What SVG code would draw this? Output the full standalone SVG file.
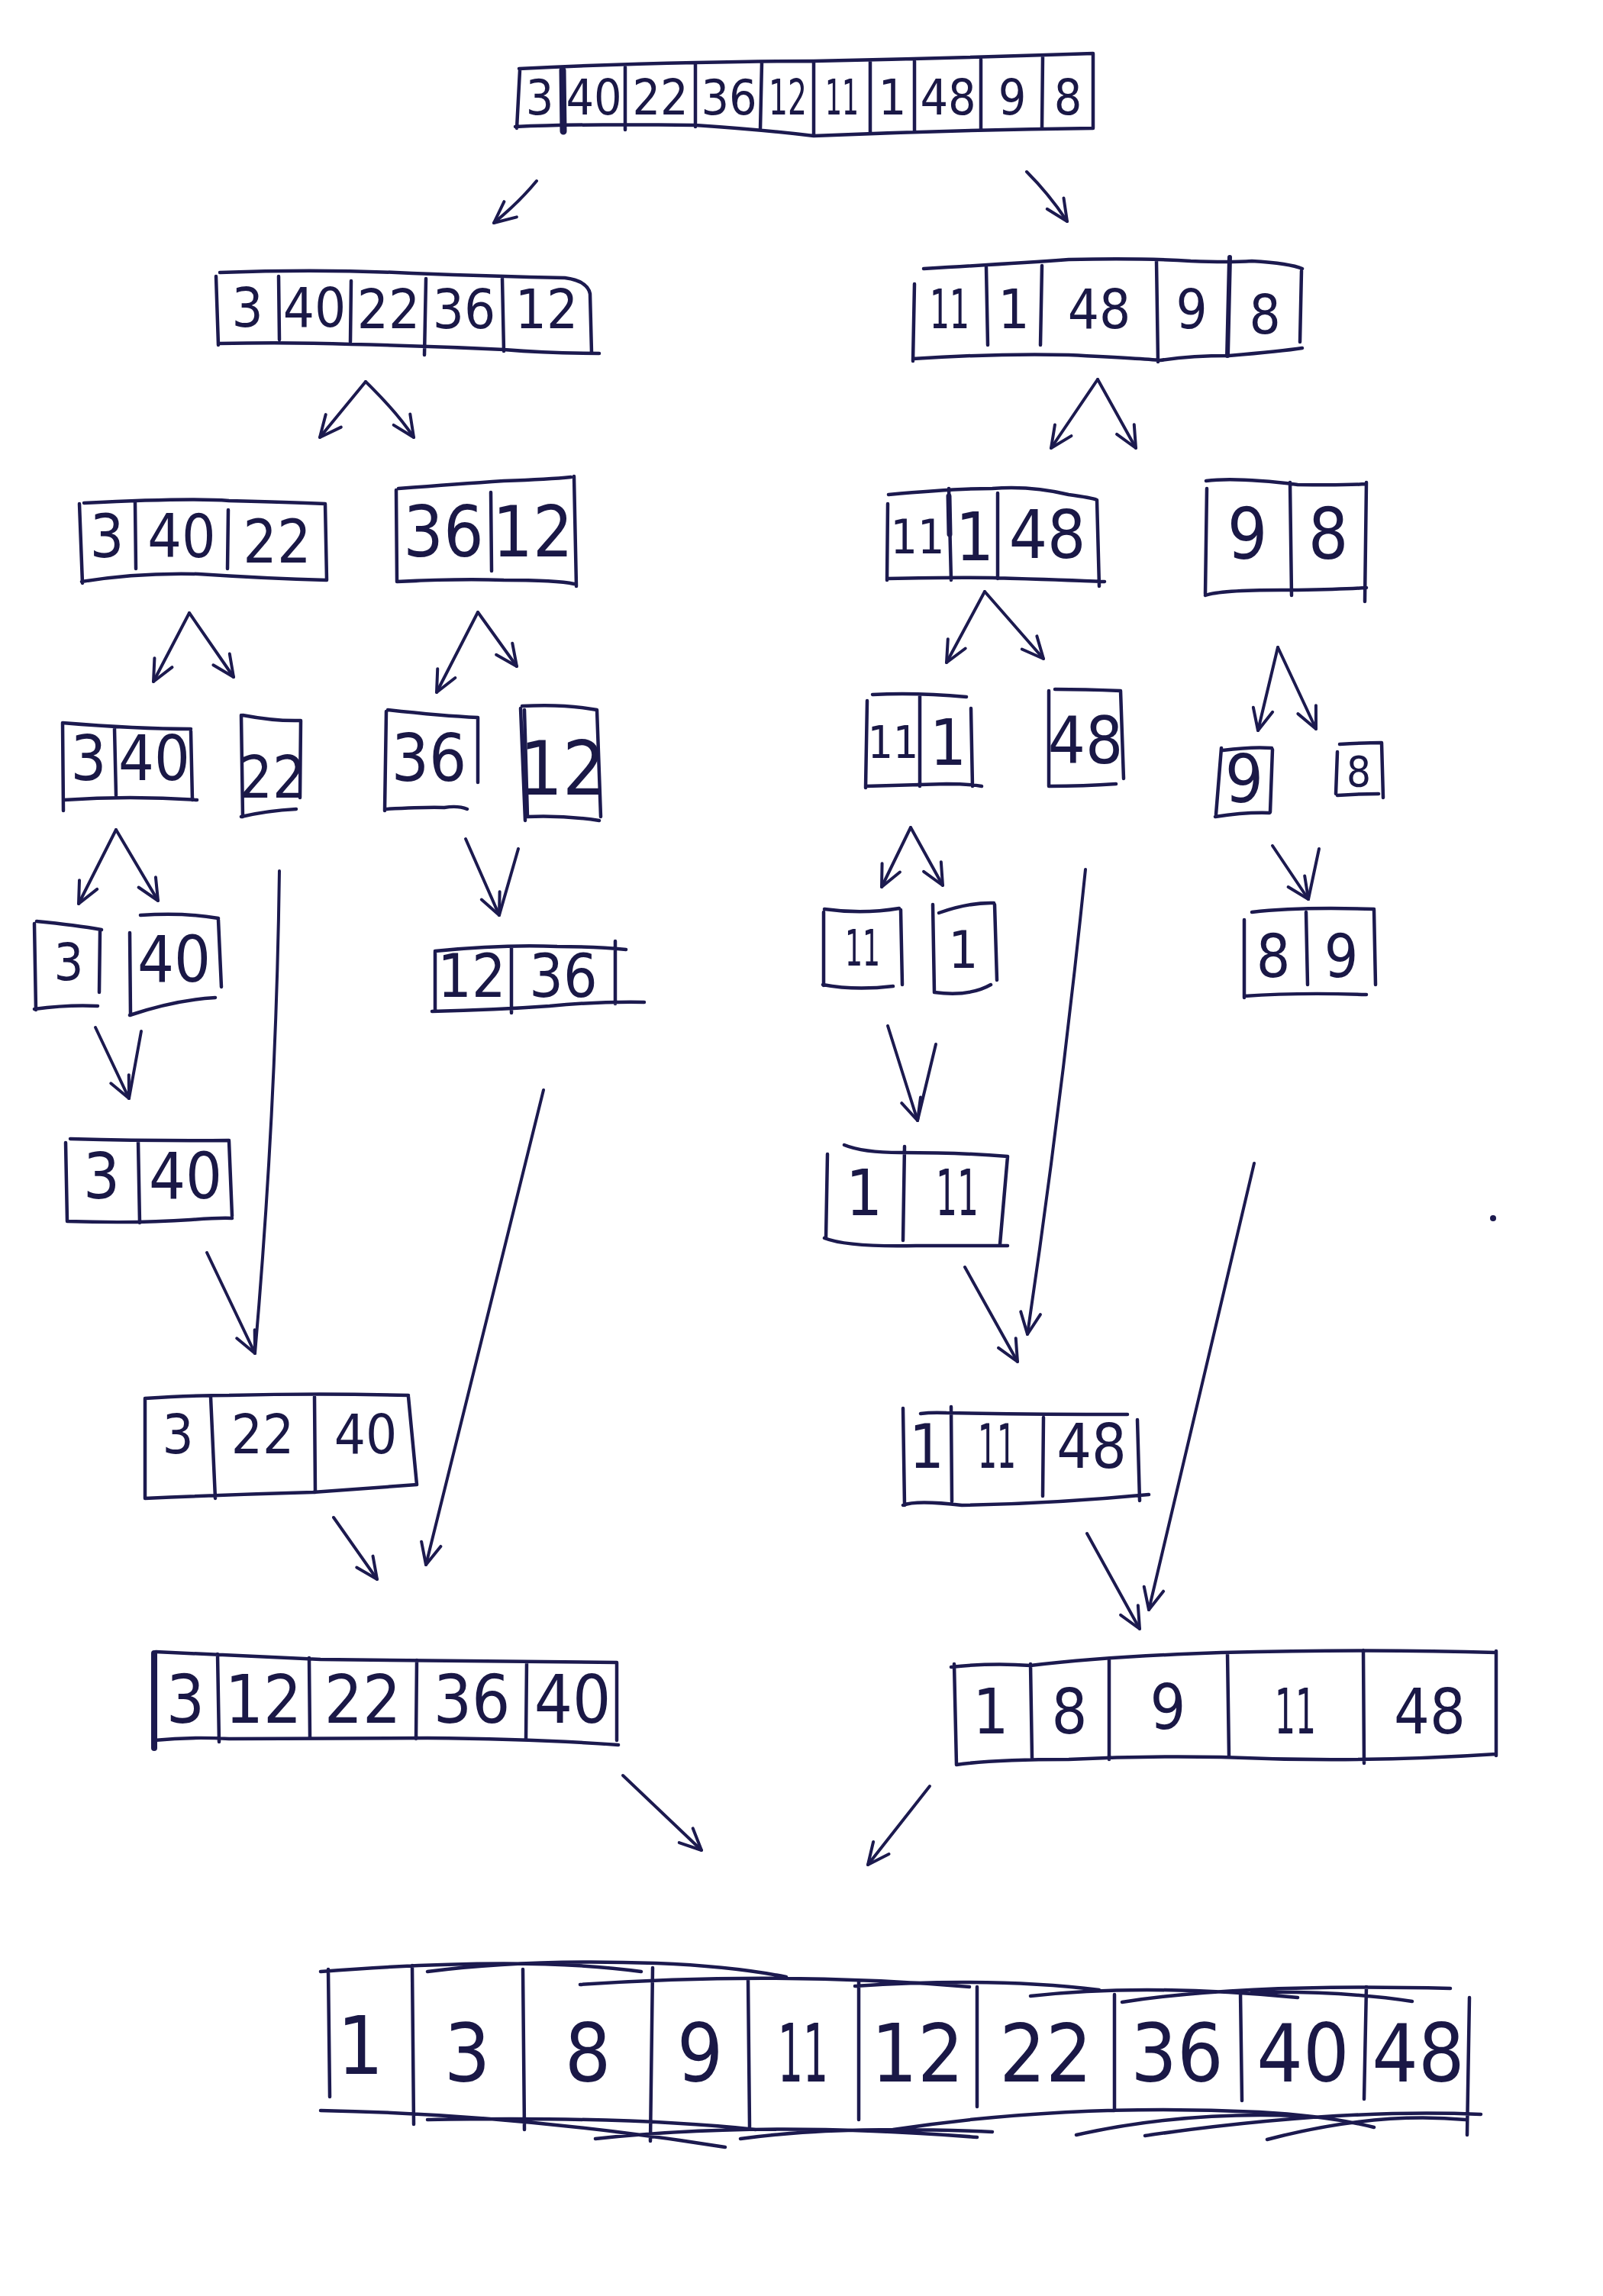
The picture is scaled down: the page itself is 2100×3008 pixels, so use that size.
<svg xmlns="http://www.w3.org/2000/svg" width="2100" height="3008" viewBox="0 0 2100 3008">
<style>
.ln{fill:none;stroke:#1c1a4f;stroke-width:4.5;stroke-linecap:round;stroke-linejoin:round}
.thk{stroke-width:9}
.d{font-family:"DejaVu Sans Condensed","Liberation Sans",sans-serif;fill:#1a1846;text-anchor:middle;dominant-baseline:central}
.cn path{fill:none;stroke:#1c1a4f;stroke-width:4;stroke-linecap:round}
.ah{marker-end:url(#ah)}
</style>
<defs>
<marker id="ah" markerUnits="userSpaceOnUse" markerWidth="40" markerHeight="40" viewBox="0 0 40 40" refX="36" refY="20" orient="auto">
<path d="M8,7 L36,20 L8,33" fill="none" stroke="#1c1a4f" stroke-width="4" stroke-linecap="round" stroke-linejoin="round"/>
</marker>
</defs>
<rect width="2100" height="3008" fill="#ffffff"/>

<g id="n0">
<path class="ln" d="M680,90 Q800,84 911,82 Q1000,80 1066,80 Q1250,76 1432,70 M1432,70 L1432,168 M675,166 Q760,162 911,164 Q1000,170 1066,178 Q1250,170 1432,168 M681,92 L677,168 M819,88 L819,170 M911,84 L911,166 M998,82 L996,170 M1066,80 L1066,178 M1140,80 L1140,175 M1198,80 L1198,172 M1285,78 L1285,170 M1366,74 L1365,168"/>
<path class="ln thk" d="M737,92 L738,172"/>
<g class="d" font-size="64">
<text x="707" y="128">3</text><text x="778" y="128">40</text><text x="865" y="128">22</text><text x="955" y="128">36</text><text x="1032" y="128" textLength="50" lengthAdjust="spacingAndGlyphs">12</text><text x="1103" y="128" textLength="44" lengthAdjust="spacingAndGlyphs">11</text><text x="1169" y="128">1</text><text x="1242" y="128">48</text><text x="1326" y="128">9</text><text x="1399" y="128">8</text>
</g>
</g>

<g id="n1L">
<path class="ln" d="M288,357 Q420,352 540,358 Q650,362 740,364 Q770,368 773,385 L775,462 M287,450 Q380,448 460,451 Q560,453 660,458 Q720,463 785,463 M283,362 L286,452 M365,362 L366,445 M460,368 L459,448 M558,365 L556,465 M658,365 L660,460"/>
<g class="d" font-size="72">
<text x="324" y="403">3</text><text x="412" y="403">40</text><text x="509" y="405">22</text><text x="608" y="405">36</text><text x="716" y="405">12</text>
</g>
</g>

<g id="n1R">
<path class="ln" d="M1210,352 Q1330,345 1400,340 Q1500,338 1560,342 Q1610,344 1640,342 Q1690,345 1706,352 M1705,355 L1703,448 M1196,470 Q1300,463 1400,465 Q1500,470 1520,472 Q1560,466 1610,466 Q1680,460 1706,456 M1198,372 L1196,473 M1292,350 L1294,452 M1365,348 L1363,452 M1515,342 L1517,474"/>
<path class="ln" style="stroke-width:6" d="M1611,337 L1608,466"/>
<g class="d" font-size="72">
<text x="1244" y="405" textLength="52" lengthAdjust="spacingAndGlyphs">11</text><text x="1328" y="405">1</text><text x="1440" y="405">48</text><text x="1561" y="405">9</text><text x="1657" y="412">8</text>
</g>
</g>

<g id="n2a">
<path class="ln" d="M110,659 Q250,652 300,656 Q380,658 426,660 L428,760 M107,762 Q180,750 260,752 Q350,758 428,760 M104,660 L108,764 M177,658 L178,745 M299,668 L298,745"/>
<g class="d" font-size="78"><text x="140" y="703">3</text><text x="238" y="703">40</text><text x="363" y="710">22</text></g>
</g>

<g id="n2b">
<path class="ln" d="M522,640 Q600,634 660,630 Q720,628 748,625 M752,624 L755,768 M520,762 Q600,758 660,760 Q730,760 752,765 M519,642 L520,762 M643,645 L644,748"/>
<g class="d" font-size="92"><text x="581" y="697">36</text><text x="698" y="697">12</text></g>
</g>

<g id="n2c">
<path class="ln" d="M1164,648 Q1250,640 1300,640 Q1350,636 1400,648 Q1430,652 1437,655 L1440,768 M1162,758 Q1250,756 1300,757 Q1400,760 1447,762 M1163,660 L1162,760 M1243,640 L1246,760 M1307,646 L1307,758"/>
<path class="ln" style="stroke-width:7" d="M1243,650 L1244,700"/>
<g class="d" font-size="88"><text x="1202" y="703" font-size="62">11</text><text x="1277" y="703">1</text><text x="1372" y="700">48</text></g>
</g>

<g id="n2d">
<path class="ln" d="M1580,630 Q1620,625 1700,635 Q1760,636 1790,634 M1790,632 L1788,788 M1579,780 Q1600,772 1700,773 Q1760,772 1790,770 M1581,640 L1579,778 M1690,632 L1692,780"/>
<g class="d" font-size="92"><text x="1634" y="700">9</text><text x="1740" y="700">8</text></g>
</g>

<g id="n3a">
<path class="ln" d="M82,947 Q180,955 250,955 M250,958 L252,1048 M84,1048 Q170,1042 258,1048 M82,947 L83,1062 M150,955 L152,1042"/>
<g class="d" font-size="82"><text x="116" y="993">3</text><text x="202" y="993">40</text></g>
</g>

<g id="n3b">
<path class="ln" d="M318,937 Q360,945 394,944 L393,1045 M316,1070 Q350,1062 388,1060 M316,937 L318,1070"/>
<g class="d" font-size="76"><text x="357" y="1018">22</text></g>
</g>

<g id="n3c">
<path class="ln" d="M508,930 Q580,938 626,940 L626,1025 M504,1060 Q560,1057 582,1058 Q600,1055 612,1060 M506,932 L504,1062"/>
<g class="d" font-size="86"><text x="562" y="993">36</text></g>
</g>

<g id="n3d">
<path class="ln" d="M684,925 Q740,922 782,930 L787,1070 M690,1070 Q740,1068 785,1075 M682,928 L688,1075 M687,930 L691,1070"/>
<g class="d" font-size="98"><text x="737" y="1007">12</text></g>
</g>

<g id="n3e">
<path class="ln" d="M1143,910 Q1200,907 1266,913 M1272,928 L1274,1030 M1134,1030 Q1200,1028 1240,1027 Q1270,1027 1286,1030 M1136,918 L1134,1032 M1205,912 L1205,1030"/>
<g class="d" font-size="84"><text x="1170" y="973" font-size="58">11</text><text x="1242" y="973">1</text></g>
</g>

<g id="n3f">
<path class="ln" d="M1382,903 Q1420,903 1468,905 L1472,1020 M1374,1030 Q1420,1030 1462,1027 M1374,905 L1374,1030"/>
<g class="d" font-size="86"><text x="1422" y="970">48</text></g>
</g>

<g id="n3g">
<path class="ln" d="M1602,983 Q1640,978 1666,980 M1667,982 L1664,1064 M1592,1070 Q1630,1064 1663,1065 M1600,980 L1593,1067"/>
<g class="d" font-size="88"><text x="1630" y="1020">9</text></g>
</g>

<g id="n3h">
<path class="ln" d="M1755,975 Q1790,973 1810,973 L1812,1045 M1752,1042 Q1780,1040 1806,1040 M1752,985 L1750,1040"/>
<g class="d" font-size="56"><text x="1780" y="1010">8</text></g>
</g>

<g id="n4a">
<path class="ln" d="M48,1207 Q100,1212 133,1218 M131,1220 L130,1300 M45,1322 Q90,1316 128,1318 M45,1210 L47,1323"/>
<g class="d" font-size="68"><text x="90" y="1260">3</text></g>
</g>

<g id="n4b">
<path class="ln" d="M184,1199 Q240,1195 286,1203 M286,1205 L290,1293 M170,1330 Q230,1310 282,1307 M170,1222 L171,1330"/>
<g class="d" font-size="84"><text x="228" y="1257">40</text></g>
</g>

<g id="n4c">
<path class="ln" d="M570,1246 Q660,1237 730,1240 Q780,1240 820,1244 M566,1325 Q650,1323 720,1318 Q780,1312 844,1313 M570,1247 L570,1323 M670,1240 L670,1327 M806,1233 L806,1315"/>
<g class="d" font-size="78"><text x="618" y="1279">12</text><text x="738" y="1279">36</text></g>
</g>

<g id="n4d">
<path class="ln" d="M1080,1191 Q1130,1198 1178,1190 M1180,1192 L1182,1290 M1078,1290 Q1120,1298 1170,1292 M1079,1195 L1079,1291"/>
<g class="d" font-size="66"><text x="1130" y="1242" textLength="46" lengthAdjust="spacingAndGlyphs">11</text></g>
</g>

<g id="n4e">
<path class="ln" d="M1230,1196 Q1270,1182 1302,1183 M1303,1185 L1306,1284 M1224,1300 Q1270,1306 1298,1290 M1222,1185 L1224,1300"/>
<g class="d" font-size="68"><text x="1262" y="1244">1</text></g>
</g>

<g id="n4f">
<path class="ln" d="M1640,1195 Q1700,1188 1800,1191 M1800,1192 L1802,1290 M1630,1305 Q1700,1300 1790,1303 M1630,1205 L1630,1307 M1711,1195 L1713,1290"/>
<g class="d" font-size="78"><text x="1668" y="1253">8</text><text x="1757" y="1253">9</text></g>
</g>

<g id="n5a">
<path class="ln" d="M92,1492 Q200,1495 300,1494 M300,1495 L304,1593 M88,1600 Q180,1603 250,1598 Q290,1595 304,1596 M86,1497 L88,1600 M181,1495 L183,1602"/>
<g class="d" font-size="84"><text x="133" y="1541">3</text><text x="243" y="1541">40</text></g>
</g>

<g id="n5b">
<path class="ln" d="M1106,1500 Q1130,1510 1180,1510 Q1260,1510 1320,1515 L1310,1630 M1080,1622 Q1110,1634 1200,1632 Q1270,1632 1320,1632 M1084,1512 L1082,1622 M1185,1502 L1183,1625"/>
<g class="d" font-size="84"><text x="1132" y="1563">1</text><text x="1254" y="1563" textLength="56" lengthAdjust="spacingAndGlyphs">11</text></g>
</g>

<g id="n6a">
<path class="ln" d="M190,1832 Q250,1828 300,1828 Q420,1825 535,1828 M535,1830 L546,1945 M190,1963 Q300,1958 410,1955 Q480,1950 546,1945 M190,1832 L190,1963 M276,1830 L282,1963 M412,1830 L413,1955"/>
<g class="d" font-size="72"><text x="233" y="1879">3</text><text x="344" y="1879">22</text><text x="479" y="1879">40</text></g>
</g>

<g id="n6b">
<path class="ln" d="M1206,1852 Q1220,1850 1240,1851 Q1350,1853 1477,1853 M1490,1860 L1493,1966 M1183,1972 Q1200,1965 1260,1972 Q1380,1970 1505,1958 M1183,1845 L1185,1972 M1246,1843 L1247,1967 M1367,1857 L1366,1960"/>
<g class="d" font-size="80"><text x="1214" y="1895">1</text><text x="1306" y="1895" textLength="50" lengthAdjust="spacingAndGlyphs">11</text><text x="1430" y="1895">48</text></g>
</g>

<g id="n7a">
<path class="ln" d="M204,2164 Q300,2168 420,2174 Q600,2175 808,2178 L808,2280 M202,2280 Q250,2275 300,2278 Q450,2278 560,2277 Q700,2278 810,2286 M285,2167 L287,2282 M405,2172 L406,2277 M546,2175 L545,2278 M690,2177 L689,2278"/>
<path class="ln" style="stroke-width:8" d="M202,2166 L202,2290"/>
<g class="d" font-size="88"><text x="243" y="2226">3</text><text x="345" y="2226">12</text><text x="475" y="2226">22</text><text x="618" y="2226">36</text><text x="750" y="2226">40</text></g>
</g>

<g id="n7b">
<path class="ln" d="M1246,2184 Q1300,2178 1350,2182 Q1450,2170 1600,2165 Q1800,2160 1960,2165 M1960,2163 L1960,2300 M1253,2312 Q1300,2305 1400,2305 Q1500,2300 1600,2302 Q1780,2310 1960,2298 M1250,2180 L1253,2312 M1350,2180 L1352,2303 M1453,2175 L1453,2305 M1608,2165 L1610,2300 M1786,2162 L1787,2310"/>
<g class="d" font-size="82"><text x="1298" y="2242">1</text><text x="1401" y="2242">8</text><text x="1530" y="2236">9</text><text x="1697" y="2242" textLength="54" lengthAdjust="spacingAndGlyphs">11</text><text x="1873" y="2242">48</text></g>
</g>

<g id="n8">
<path class="ln" d="M420,2583 Q690,2562 840,2583 M560,2583 Q690,2566 860,2572 Q960,2576 1030,2590 M760,2600 Q1020,2582 1270,2603 M1120,2602 Q1300,2590 1440,2607 M1350,2615 Q1500,2598 1700,2617 M1470,2623 Q1630,2598 1900,2605 M1640,2610 Q1760,2608 1850,2622 M420,2765 Q680,2770 950,2813 M560,2777 Q820,2772 990,2790 M780,2802 Q1000,2778 1280,2800 M970,2802 Q1100,2784 1300,2793 M1170,2790 Q1400,2755 1650,2767 Q1740,2772 1800,2787 M1410,2797 Q1550,2766 1700,2772 M1500,2798 Q1750,2762 1940,2770 M1660,2803 Q1800,2766 1920,2777 M430,2580 L432,2747 M540,2575 L542,2783 M685,2580 L687,2790 M855,2578 L852,2805 M980,2593 L982,2787 M1125,2595 L1125,2777 M1280,2603 L1280,2760 M1460,2613 L1460,2765 M1625,2610 L1627,2752 M1790,2603 L1787,2750 M1925,2617 L1922,2797"/>
<g class="d" font-size="106"><text x="472" y="2680">1</text><text x="612" y="2690">3</text><text x="770" y="2690">8</text><text x="917" y="2690">9</text><text x="1052" y="2690" textLength="66" lengthAdjust="spacingAndGlyphs">11</text><text x="1202" y="2690">12</text><text x="1370" y="2690">22</text><text x="1542" y="2690">36</text><text x="1707" y="2690">40</text><text x="1858" y="2690">48</text></g>
</g>

<g id="connectors" class="cn">
<path class="ah" d="M703,237 Q680,265 647,292"/>
<path class="ah" d="M1345,225 Q1375,255 1398,290"/>
<path class="ah" d="M479,500 L419,573"/>
<path class="ah" d="M479,500 Q520,540 542,573"/>
<path class="ah" d="M1438,497 L1377,587"/>
<path class="ah" d="M1438,497 L1488,587"/>
<path class="ah" d="M248,803 L201,893"/>
<path class="ah" d="M248,803 L306,887"/>
<path class="ah" d="M626,802 L572,907"/>
<path class="ah" d="M626,802 L677,873"/>
<path class="ah" d="M1290,775 L1240,868"/>
<path class="ah" d="M1290,775 L1367,863"/>
<path class="ah" d="M1674,848 L1648,957"/>
<path class="ah" d="M1674,848 L1724,955"/>
<path class="ah" d="M152,1087 L103,1184"/>
<path class="ah" d="M152,1087 L207,1180"/>
<path class="ah" d="M610,1099 L654,1199"/>
<path d="M679,1112 L654,1199"/>
<path class="ah" d="M1193,1084 L1155,1162"/>
<path class="ah" d="M1193,1084 L1235,1160"/>
<path class="ah" d="M1667,1108 L1714,1178"/>
<path d="M1728,1112 L1714,1178"/>
<path class="ah" d="M125,1346 L169,1439"/>
<path d="M185,1351 L169,1439"/>
<path class="ah" d="M1163,1344 L1202,1468"/>
<path d="M1226,1368 L1202,1468"/>
<path class="ah" d="M271,1641 L334,1773"/>
<path d="M366,1141 Q362,1450 334,1773"/>
<path class="ah" d="M712,1428 L558,2050"/>
<path class="ah" d="M437,1988 L494,2069"/>
<path class="ah" d="M1264,1660 L1333,1784"/>
<path class="ah" d="M1422,1139 Q1390,1450 1346,1748"/>
<path class="ah" d="M1643,1524 L1505,2109"/>
<path class="ah" d="M1424,2009 L1493,2134"/>
<path class="ah" d="M816,2326 L919,2424"/>
<path class="ah" d="M1218,2340 L1137,2443"/>
</g>
<circle cx="1956" cy="1596" r="4" fill="#1c1a4f"/>
</svg>
